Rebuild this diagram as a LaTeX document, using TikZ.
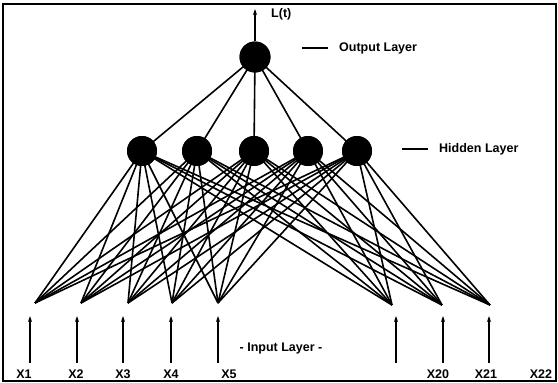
\documentclass[tikz,border=0pt]{standalone}
\usepackage{fontspec}
\setmainfont{Liberation Sans}
\usetikzlibrary{arrows.meta}
\begin{document}
\begin{tikzpicture}[x=1pt,y=-1pt,
  neuron/.style={circle,fill=black,minimum size=30pt,inner sep=0pt},
  lbl/.style={font=\bfseries\fontsize{12.5}{13}\selectfont,inner sep=0pt},
  conn/.style={line width=1.6pt},
  inarrow/.style={line width=1.5pt,-{Stealth[length=6pt,width=4pt]}}]
\useasboundingbox (0,0) rectangle (558,383);
\draw[line width=2.2pt] (3,4) rectangle (556,381);
% output
\node[neuron,minimum size=31pt] (o) at (255,57) {};
\coordinate (ltop) at (255,9);
\draw[inarrow] (o.north) -- (ltop);
\node[lbl,anchor=west] (lt) at (271,14) {L(t)};
\coordinate (od1) at (302,48); \coordinate (od2) at (328,48);
\draw[line width=2pt] (od1) -- (od2);
\node[lbl,anchor=west] (ol) at (339,48) {Output Layer};
% hidden
\foreach \i/\x in {1/142,2/197,3/254,4/308,5/357}{
  \node[neuron] (h\i) at (\x,151) {};
}
\coordinate (hd1) at (402,149); \coordinate (hd2) at (428,149);
\draw[line width=1.2pt] (hd1) -- (hd2);
\node[lbl,anchor=west] (hl) at (439,149) {Hidden Layer};
% inputs
\foreach \i/\x/\y in {1/35/303,2/81/303,3/128/303,4/172/303,5/218/303,6/392/305,7/442/305,8/490/305}{
  \coordinate (i\i) at (\x,\y);
}
\foreach \h in {1,...,5}{
  \draw[conn] (o.center) -- (h\h.center);
  \foreach \i in {1,...,8}{
    \draw[conn] (h\h.center) -- (i\i);
  }
}
\node[neuron,minimum size=31pt] at (o) {};
\foreach \i/\x in {1/142,2/197,3/254,4/308,5/357}{
  \node[neuron] at (\x,151) {};
}
% input arrows
\foreach \i/\x in {1/30,2/77,3/123,4/171,5/218,6/396,7/443,8/489}{
  \coordinate (ab\i) at (\x,363);
  \coordinate (at\i) at (\x,316);
  \draw[inarrow] (ab\i) -- (at\i);
}
\node[lbl] (il) at (281,348) {- Input Layer -};
\foreach \n/\x in {1/24,2/76,3/123,4/171,5/229,20/438,21/486,22/541}{
  \node[lbl] (x\n) at (\x,374) {X\n};
}
\end{tikzpicture}
\end{document}
